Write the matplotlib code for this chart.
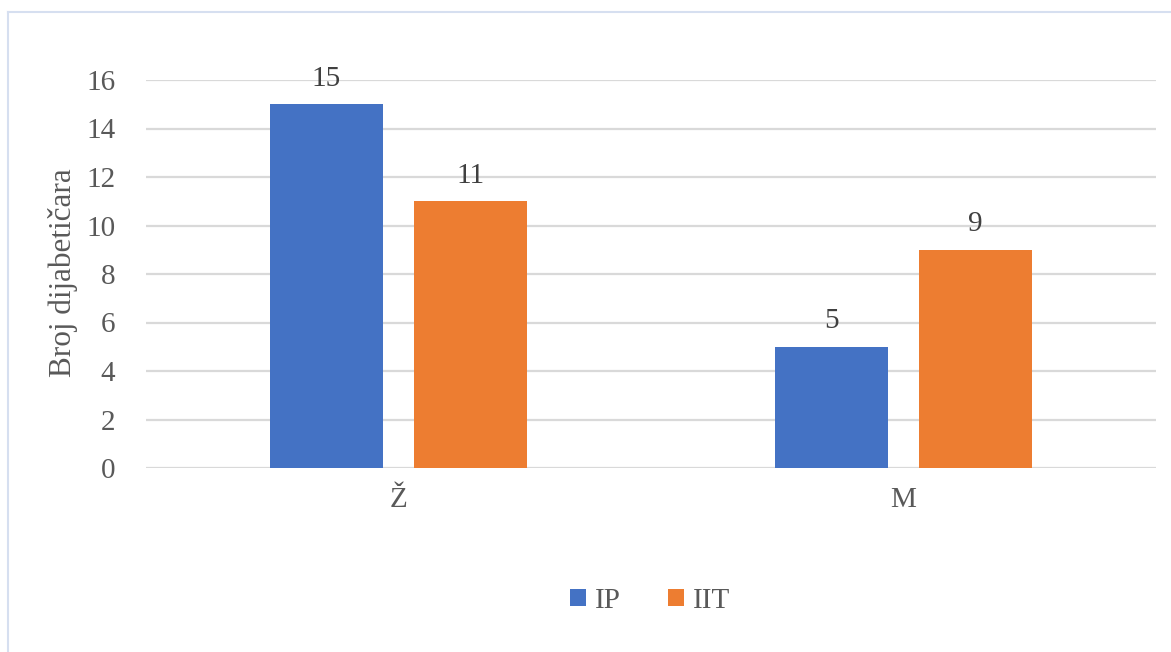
import numpy as np
import matplotlib
matplotlib.use("Agg")
import matplotlib.pyplot as plt
from matplotlib.lines import Line2D

categories = ["Ž", "M"]
series_names = ["IP", "IIT"]
ip_values = [15, 5]
iit_values = [11, 9]
yticks = [0, 2, 4, 6, 8, 10, 12, 14, 16]

colors = ["#4472C4", "#ED7D31"]
text_color = "#595959"

plt.rcParams["font.family"] = ["Liberation Serif", "DejaVu Serif"]

W, H = 1171, 652
fig = plt.figure(figsize=(W / 100, H / 100), dpi=100)

# light border of the chart area (only top and left are in frame)
fig.add_artist(Line2D([8 / W, 8 / W], [0, 1 - 12 / H], color="#d6dff0", lw=1.5))
fig.add_artist(Line2D([8 / W, 1], [1 - 12 / H, 1 - 12 / H], color="#d6dff0", lw=1.5))

ax = fig.add_axes([146 / W, (H - 468) / H, (1156 - 146) / W, (468 - 80) / H])

x = np.arange(len(categories))
width = 0.222
offset = 0.1426
for vals, name, col, sgn in [(ip_values, series_names[0], colors[0], -1),
                             (iit_values, series_names[1], colors[1], 1)]:
    bars = ax.bar(x + sgn * offset, vals, width, color=col, label=name, zorder=3)
    for b, v in zip(bars, vals):
        ax.annotate(str(v), (b.get_x() + b.get_width() / 2, v), xytext=(0, 9),
                    textcoords="offset points", ha="center", va="bottom",
                    fontsize=21, color="#404040")

ax.set_xlim(-0.5, 1.5)
ax.set_ylim(0, 16)
ax.set_yticks(yticks)
ax.set_xticks(x)
ax.set_xticklabels(categories)
ax.tick_params(axis="both", length=0, labelsize=21, colors=text_color)
ax.tick_params(axis="y", pad=22)
ax.tick_params(axis="x", pad=14)
ax.grid(axis="y", color="#d9d9d9", lw=1.6, zorder=0)
for s in ax.spines.values():
    s.set_visible(False)
ax.set_ylabel("Broj dijabetičara", fontsize=22.5, color=text_color)
ax.yaxis.set_label_coords(-0.067, 0.504)

handles, labels = ax.get_legend_handles_labels()
fig.legend(handles, labels, loc="center", bbox_to_anchor=(650 / W, 1 - 601 / H),
           ncol=2, frameon=False, fontsize=21, labelcolor=text_color,
           handlelength=0.55, handleheight=0.55, handletextpad=0.3, columnspacing=1.6)

fig.savefig("out.png", dpi=100, facecolor="white")
